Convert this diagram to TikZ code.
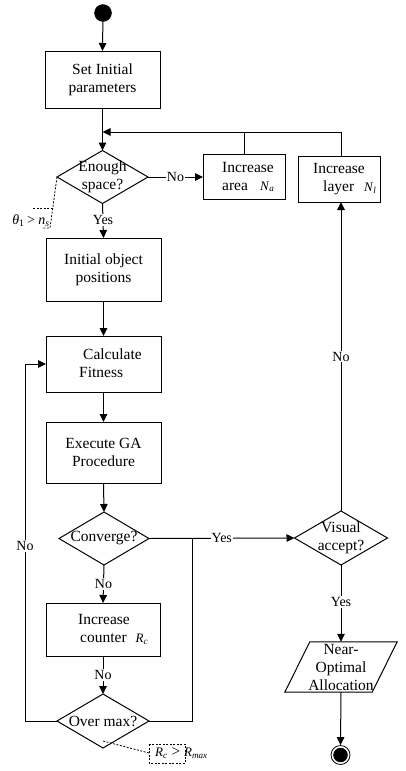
\documentclass[tikz,border=0pt]{standalone}
\usepackage{fontspec}
\setmainfont{Liberation Serif}
\usetikzlibrary{shapes.geometric,arrows.meta,calc}
\newcommand{\vsub}[2]{{\fontsize{13}{13}\selectfont\textit{#1}\textsubscript{\textit{#2}}}}
\begin{document}
\begin{tikzpicture}[x=1pt,y=-1pt,
  font=\fontsize{15.5}{18}\selectfont,
  ln/.style={line width=1pt},
  arr/.style={line width=1pt,-{Triangle[length=8pt,width=7.5pt]}},
  box/.style={draw,line width=1pt,rectangle,inner sep=0pt,outer sep=0pt,align=center},
  dia/.style={draw,line width=1pt,diamond,inner sep=0pt,outer sep=0pt},
  txt/.style={inner sep=0pt,align=center},
  lbl/.style={fill=white,inner sep=1pt,font=\fontsize{14}{14}\selectfont},
  ann/.style={line width=0.8pt,dash pattern=on 2pt off 1.5pt},
  startc/.style={circle,fill=black,draw=black,inner sep=0pt,minimum size=17pt}]
\useasboundingbox (0,0) rectangle (406,771);

% start
\node[startc] (start) at (103,13) {};
% set initial parameters
\node[box,minimum width=115,minimum height=57] (set) at (102.5,79.5) {Set Initial\\parameters};
% enough space diamond
\node[dia,minimum width=91,minimum height=53] (dia1) at (102.5,177) {};
\node[txt] (dia1t) at (102.5,177) {Enough\\space?};
% increase area
\node[box,minimum width=82,minimum height=45] (area) at (244,177) {};
\node[txt,anchor=west,align=left] (areat) at (222,177) {Increase\\area\hspace{12pt}\vsub{N}{a}};
% increase layer
\node[box,minimum width=82,minimum height=46] (layer) at (339,179) {};
\node[txt,anchor=west,align=left] (layert) at (313,179) {Increase\\\hspace{10pt}layer\hspace{10pt}\vsub{N}{l}};
% initial object positions
\node[box,minimum width=115,minimum height=63] (init) at (103.5,269.5) {Initial object\\positions};
% calculate fitness
\node[box,minimum width=115,minimum height=56] (calc) at (103.5,364) {};
\node[txt,anchor=west,align=left] (calct) at (79,363) {\hspace{4pt}Calculate\\Fitness};
% execute GA
\node[box,minimum width=115,minimum height=61] (exe) at (103.5,452.5) {Execute GA\\Procedure};
% converge diamond
\node[dia,minimum width=90,minimum height=53] (dia2) at (104,538.5) {};
\node[txt] (dia2t) at (104,538.5) {Converge?};
% increase counter
\node[box,minimum width=114,minimum height=53] (cnt) at (103,629.5) {};
\node[txt,anchor=west,align=left] (cntt) at (78,629.5) {Increase\\\hspace{2pt}counter\hspace{9pt}\vsub{R}{c}};
% over max diamond
\node[dia,minimum width=92,minimum height=54] (dia3) at (103,721) {};
\node[txt] (dia3t) at (103,721) {Over max?};
% visual accept diamond
\node[dia,minimum width=93,minimum height=54] (vis) at (341,538) {};
\node[txt] (vist) at (341,537.5) {Visual\\accept?};
% near optimal allocation (parallelogram)
\node[txt,minimum width=87,minimum height=50] (para) at (341,667) {Near-\\Optimal\\Allocation};
\draw[ln] ($(para.south west)+(-12.5,0)$) -- ($(para.north west)+(12.5,0)$)
  -- ($(para.north east)+(12.5,0)$) -- ($(para.south east)+(-12.5,0)$) -- cycle;
% end
\node[circle,draw=black,line width=0.8pt,inner sep=0pt,minimum size=19pt] (endo) at (340.5,755) {};
\node[startc,minimum size=14pt] (endi) at (340.5,755) {};

% coordinates
\coordinate (fb) at (102.5,132);
\coordinate (jn) at (192,538.5);
\coordinate (lx) at (25,721);

% connectors
\draw[arr] (start) -- (set.north);
\draw[arr] (set.south) -- (dia1.north);
\draw[arr] (vis.north |- layer.north) -- (vis.north |- fb) -- (fb);
\draw[ln] (area.north) -- (area.north |- fb);
\draw[arr] (dia1.east) -- node[lbl]{No} (area.west);
\draw[arr] (dia1.south) -- node[lbl,pos=0.48]{Yes} (init.north);
\draw[arr] (init.south) -- (calc.north);
\draw[arr] (calc.south) -- (exe.north);
\draw[arr] (exe.south) -- (dia2.north);
\draw[arr] (dia2.east) -- node[lbl]{Yes} (vis.west);
\draw[ln] (dia3.east) -| (jn);
\draw[arr] (dia2.south) -- node[lbl]{No} (cnt.north);
\draw[arr] (cnt.south) -- node[lbl]{No} (dia3.north);
\draw[arr] (dia3.west) -- (lx) -- node[lbl,pos=0.49]{No} (lx |- calc.west) -- (calc.west);
\draw[arr] (vis.north) -- node[lbl]{No} (vis.north |- layer.south);
\draw[arr] (vis.south) -- node[lbl,pos=0.48]{Yes} (para.north);
\draw[arr] (para.south) -- (endo.north);

% annotations
\node[inner sep=0pt,anchor=east] (theta) at (50,221) {\fontsize{14}{14}\selectfont\textit{θ}\textsubscript{1} \hspace{-1pt}> \textit{n}\textsubscript{\textit{s}}};
\draw[ann] (dia1.west) -- (50,228) -- (42,228);
\draw[ann] (33,208) -- (52.5,208);
\draw[ann] (149,744) rectangle (185,763);
\draw[ann] (103,741) -- (149,753);
\node[inner sep=0pt,anchor=west] (rc) at (155,753) {\vsub{R}{c} > \vsub{R}{max}};
\end{tikzpicture}
\end{document}
